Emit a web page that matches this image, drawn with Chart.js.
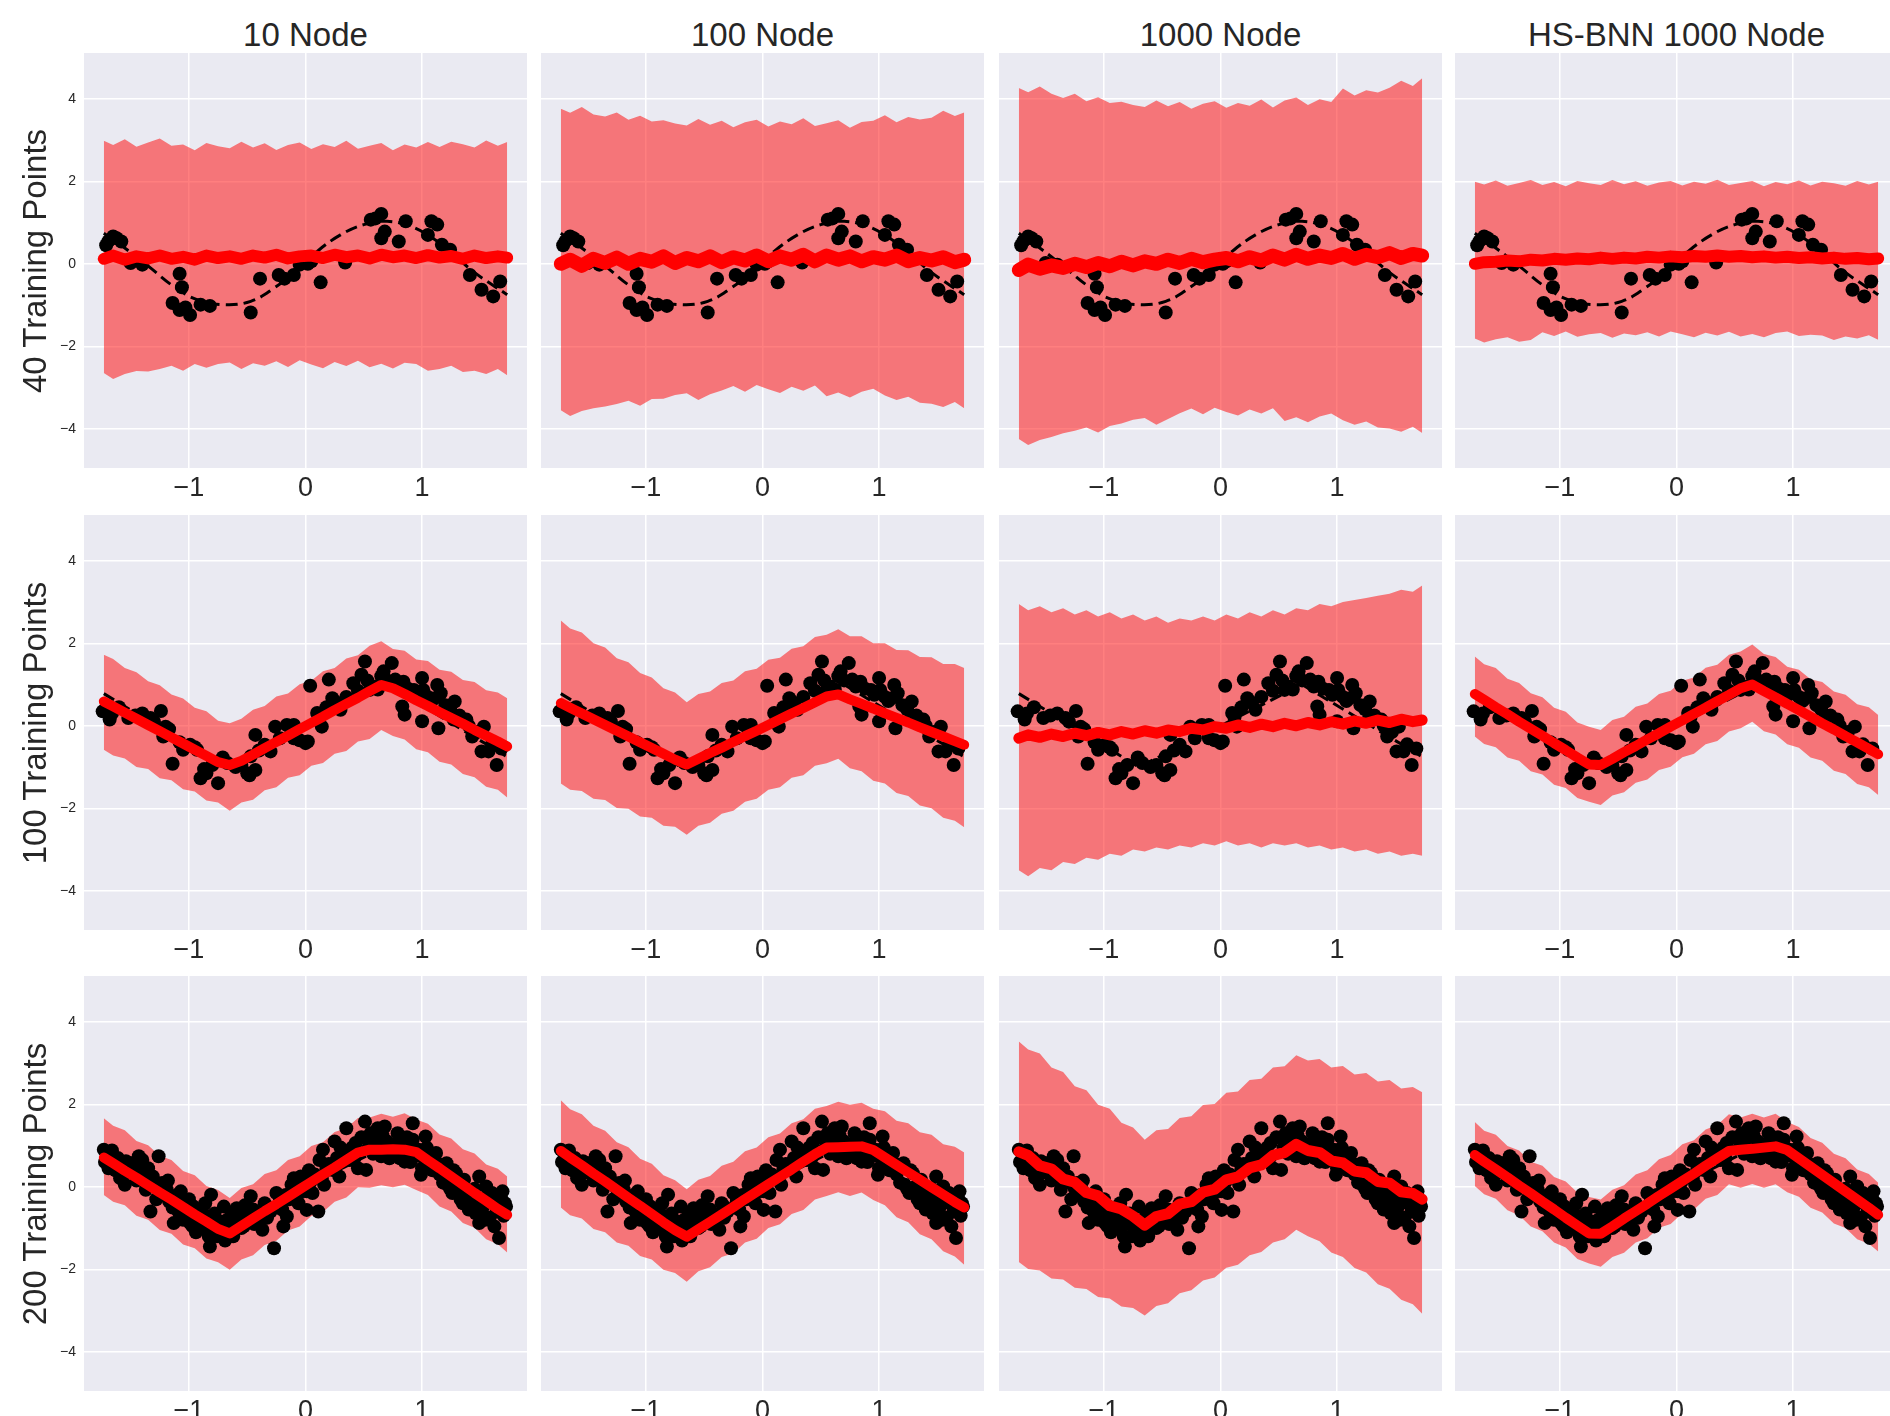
<!DOCTYPE html>
<html lang="en">
<head>
<meta charset="UTF-8">
<title>BNN regression: nodes vs training points</title>
<script src="https://cdn.jsdelivr.net/npm/chart.js"></script>
<style>
  body {
    margin: 0;
    width: 1890px;
    height: 1416px;
    overflow: hidden;
    position: relative;
    background: #fff;
    font-family: "Liberation Sans", Arial, sans-serif;
    color: #262626;
  }
  canvas { position: absolute; }
  .title, .rowlabel {
    position: absolute;
    font-size: 33px;
    line-height: 1;
    white-space: nowrap;
  }
  .title { transform: translate(-50%, -50%); }
  .rowlabel { transform: translate(-50%, -50%) rotate(-90deg); }
</style>
</head>
<body>
<script>
// ---- labels ----
const colTitles = ["10 Node", "100 Node", "1000 Node", "HS-BNN 1000 Node"];
const rowTitles = ["40 Training Points", "100 Training Points", "200 Training Points"];
const xTicks = [-1, 0, 1];
const yTicks = [-4, -2, 0, 2, 4];

// ---- x positions where the predictive band / mean were read ----
const bandX = [-1.73, -1.65, -1.55, -1.45, -1.35, -1.25, -1.15, -1.05, -0.95, -0.85, -0.75, -0.65,
  -0.55, -0.45, -0.35, -0.25, -0.15, -0.05, 0.05, 0.15, 0.25, 0.35, 0.45, 0.55,
  0.65, 0.75, 0.85, 0.95, 1.05, 1.15, 1.25, 1.35, 1.45, 1.55, 1.65, 1.73];

// ---- true function (dashed) ----
const truth1X = [-1.73, -1.53, -1.33, -1.13, -0.93, -0.70, -0.47, -0.27, -0.07, 0.10, 0.30, 0.50, 0.70, 0.90, 1.07, 1.24, 1.44, 1.73];
const truth1Y = [0.74, 0.34, -0.10, -0.55, -0.87, -0.99, -0.91, -0.59, -0.15, 0.30, 0.70, 0.95, 1.03, 0.91, 0.66, 0.30, -0.19, -0.75];
const truth2X = [-1.73, -0.70, 0.70, 1.73];
const truth2Y = [0.78, -1.00, 1.00, -0.75];

// ---- training points ----
const pts40 = [[-1.71,0.45],[-1.69,0.55],[-1.65,0.66],[-1.62,0.62],[-1.58,0.54],[-1.50,0.02],[-1.40,-0.02],
  [-1.08,-0.24],[-1.06,-0.57],[-1.14,-0.95],[-1.08,-1.12],[-1.03,-1.06],[-0.99,-1.24],[-0.90,-0.99],[-0.82,-1.02],
  [-0.47,-1.18],[-0.39,-0.36],[-0.23,-0.27],[-0.18,-0.36],[-0.10,-0.27],[-0.05,-0.02],[0.02,0.00],[0.05,0.06],[0.13,-0.45],[0.34,0.03],
  [0.56,1.07],[0.60,1.10],[0.65,1.21],[0.68,0.78],[0.65,0.62],[0.80,0.54],[0.86,1.03],
  [1.05,0.70],[1.08,1.03],[1.13,0.95],[1.17,0.46],[1.24,0.34],[1.41,-0.27],[1.51,-0.63],[1.61,-0.79],[1.67,-0.43]];

const pts100 = [[-1.74,0.35],[-1.68,0.15],[-1.66,0.30],[-1.60,0.45],[-1.52,0.19],[-1.46,0.25],[-1.40,0.30],[-1.33,0.19],
  [-1.30,0.10],[-1.24,0.36],[-1.20,-0.02],[-1.17,-0.08],[-1.22,-0.26],[-1.14,-0.92],[-1.08,-0.40],[-1.05,-0.58],
  [-0.99,-0.46],[-0.95,-0.52],[-0.93,-0.58],[-0.90,-1.27],[-0.87,-1.05],[-0.85,-1.15],[-0.80,-0.95],[-0.75,-1.39],
  [-0.71,-0.77],[-0.67,-0.90],[-0.60,-1.00],[-0.55,-0.95],[-0.50,-1.15],[-0.48,-1.20],[-0.47,-0.74],[-0.43,-1.07],
  [-0.43,-0.22],[-0.40,-0.60],[-0.35,-0.46],[-0.30,-0.62],[-0.26,-0.02],[-0.22,-0.30],[-0.16,0.02],[-0.12,-0.10],
  [-0.10,0.02],[-0.10,-0.30],[-0.05,-0.35],[0.00,-0.42],[0.02,-0.38],[0.04,0.97],[0.10,0.31],[0.12,0.20],
  [0.14,-0.02],[0.18,0.45],[0.20,1.12],[0.23,0.67],[0.27,0.55],[0.30,0.39],[0.35,0.70],[0.41,1.03],
  [0.45,0.85],[0.48,1.24],[0.51,1.56],[0.53,1.10],[0.55,0.87],[0.58,0.95],[0.62,0.88],[0.65,1.20],
  [0.67,1.32],[0.70,1.10],[0.74,1.52],[0.77,1.12],[0.80,0.95],[0.84,1.07],[0.83,0.47],[0.85,0.27],
  [0.88,0.90],[0.93,0.87],[0.96,0.75],[1.00,1.16],[1.00,0.11],[1.01,0.87],[1.05,0.70],[1.08,0.60],
  [1.11,0.67],[1.13,0.99],[1.14,-0.06],[1.16,0.79],[1.20,0.50],[1.24,0.40],[1.28,0.59],[1.27,0.15],
  [1.32,0.25],[1.38,0.15],[1.40,0.00],[1.43,-0.26],[1.47,-0.15],[1.53,-0.02],[1.51,-0.62],[1.57,-0.62],
  [1.60,-0.45],[1.64,-0.95],[1.68,-0.55]];

const pts200 = [[-1.73,0.90],[-1.70,0.80],[-1.66,0.88],[-1.69,0.45],[-1.64,0.60],[-1.61,0.70],[-1.59,0.21],[-1.57,0.50],
  [-1.55,0.05],[-1.52,0.35],[-1.49,0.57],[-1.47,0.40],[-1.45,0.15],[-1.43,0.74],[-1.40,0.65],[-1.38,0.30],
  [-1.37,-0.07],[-1.35,0.45],[-1.33,-0.60],[-1.31,0.25],[-1.29,0.10],[-1.26,0.74],[-1.25,-0.05],[-1.23,0.09],
  [-1.21,-0.20],[-1.19,-0.07],[-1.17,-0.35],[-1.16,-0.32],[-1.14,-0.50],[-1.13,-0.88],[-1.11,-0.40],[-1.09,-0.60],
  [-1.07,-0.11],[-1.05,-0.80],[-1.03,-0.45],[-1.01,-0.70],[-0.99,-0.88],[-0.97,-0.95],[-0.96,-0.48],[-0.93,-0.75],
  [-0.90,-0.60],[-0.89,-0.88],[-0.87,-1.00],[-0.85,-0.70],[-0.83,-1.20],[-0.82,-1.45],[-0.81,-0.19],[-0.79,-0.90],
  [-0.76,-1.20],[-0.74,-1.05],[-0.72,-0.85],[-0.70,-0.48],[-0.69,-1.30],[-0.67,-0.80],
  [-0.65,-1.10],[-0.63,-0.64],[-0.61,-0.95],[-0.59,-0.52],[-0.57,-0.75],[-0.55,-1.00],[-0.53,-0.96],[-0.50,-0.70],
  [-0.47,-0.23],[-0.45,-0.55],[-0.43,-0.64],[-0.40,-0.85],[-0.37,-1.04],[-0.35,-0.40],[-0.32,-0.50],[-0.30,-0.60],
  [-0.27,-1.49],[-0.25,-0.15],[-0.22,-0.35],[-0.19,-0.96],[-0.17,-0.20],[-0.16,-0.72],[-0.14,-0.30],[-0.12,0.05],
  [-0.10,0.21],[-0.08,-0.25],[-0.05,0.17],[-0.04,0.25],[-0.02,-0.10],[0.01,-0.11],[0.01,-0.56],[0.04,0.10],
  [0.06,-0.15],[0.08,0.30],[0.11,-0.60],[0.12,0.65],[0.14,0.20],[0.15,0.90],[0.18,0.45],[0.20,0.55],
  [0.23,0.41],[0.25,1.10],[0.27,0.70],[0.29,0.25],[0.32,0.80],[0.35,1.42],[0.38,0.65],[0.40,0.95],
  [0.43,1.06],[0.45,0.45],[0.48,1.20],
  [0.51,1.58],[0.52,0.41],[0.54,0.95],[0.56,1.30],[0.58,0.80],[0.61,1.22],[0.62,1.42],[0.64,1.00],
  [0.65,0.74],[0.68,1.46],[0.70,1.10],[0.72,0.69],[0.75,0.85],[0.78,1.05],[0.81,0.69],[0.83,0.95],
  [0.85,0.61],[0.87,1.20],[0.89,0.90],[0.92,1.54],[0.92,1.14],[0.95,0.75],[0.97,0.90],[0.99,0.29],
  [1.00,0.45],[1.02,0.70],[1.03,1.22],[1.06,0.60],[1.09,0.40],[1.12,0.82],[1.15,0.30],[1.18,0.10],
  [1.21,0.57],[1.22,0.05],[1.24,-0.05],[1.26,-0.15],[1.29,0.33],[1.31,0.00],[1.33,-0.30],[1.36,0.17],
  [1.38,-0.11],[1.40,-0.55],[1.42,-0.20],[1.44,-0.40],[1.46,-0.64],[1.48,-0.30],[1.49,0.25],[1.49,-0.88],
  [1.52,-0.50],[1.55,0.01],[1.56,-0.23],[1.58,-0.75],[1.61,-0.40],[1.62,-0.96],[1.64,-0.60],[1.66,-1.24],
  [1.68,-0.30],[1.69,-0.11],[1.71,-0.40],[1.72,-0.48],
  [-1.72,0.60],[-1.63,0.40],[-1.54,0.62],[-1.44,0.50],[-1.36,0.20],[-1.28,-0.30],[-1.18,0.15],[-1.10,-0.20],
  [-1.00,-0.30],[-0.94,-1.10],[-0.86,-0.40],[-0.78,-0.65],[-0.71,-1.05],[-0.62,-1.20],[-0.52,-0.45],[-0.44,-0.90],
  [-0.33,-0.75],[-0.20,-0.55],[-0.06,-0.40],[0.03,0.40],[0.16,0.05],[0.30,0.95],[0.42,0.70],[0.57,1.05],
  [0.66,1.25],[0.79,1.30],[0.90,0.60],[1.04,0.95],[1.14,0.55],[1.27,0.40],[1.35,-0.40],[1.45,-0.05],
  [1.54,-0.80],[1.60,-0.15],[1.70,-0.70]];

// ---- row 1: 40 training points ----
const r1c1Upper = [2.98, 2.88, 3.02, 2.84, 2.94, 3.04, 2.86, 2.89, 2.75, 2.93, 2.85, 2.80,
  2.96, 2.82, 2.92, 2.76, 2.88, 2.94, 2.78, 2.90, 2.83, 2.98, 2.79, 2.86,
  2.93, 2.75, 2.89, 2.82, 2.95, 2.83, 2.96, 2.90, 2.82, 2.99, 2.86, 2.95];
const r1c1Lower = [-2.65, -2.79, -2.67, -2.60, -2.61, -2.55, -2.47, -2.59, -2.43, -2.52, -2.43, -2.39,
  -2.55, -2.41, -2.47, -2.36, -2.50, -2.34, -2.44, -2.53, -2.38, -2.48, -2.35, -2.51,
  -2.42, -2.54, -2.40, -2.43, -2.59, -2.55, -2.47, -2.62, -2.59, -2.67, -2.55, -2.70];
const r1c1Mean = [0.12, 0.20, 0.10, 0.18, 0.13, 0.20, 0.12, 0.17, 0.10, 0.20, 0.14, 0.18,
  0.12, 0.20, 0.15, 0.22, 0.13, 0.18, 0.20, 0.14, 0.22, 0.16, 0.20, 0.13,
  0.22, 0.16, 0.20, 0.14, 0.21, 0.15, 0.19, 0.12, 0.20, 0.14, 0.18, 0.15];

const r1c2Upper = [3.76, 3.66, 3.80, 3.62, 3.57, 3.67, 3.49, 3.59, 3.45, 3.48, 3.40, 3.35,
  3.51, 3.37, 3.47, 3.31, 3.43, 3.49, 3.33, 3.45, 3.38, 3.53, 3.34, 3.41,
  3.48, 3.30, 3.44, 3.47, 3.60, 3.43, 3.56, 3.50, 3.54, 3.71, 3.58, 3.67];
const r1c2Lower = [-3.55, -3.69, -3.57, -3.50, -3.46, -3.40, -3.32, -3.44, -3.28, -3.27, -3.18, -3.14,
  -3.30, -3.16, -3.07, -2.96, -3.10, -2.94, -3.04, -3.13, -2.98, -3.08, -2.95, -3.21,
  -3.12, -3.24, -3.10, -3.03, -3.19, -3.30, -3.22, -3.37, -3.39, -3.47, -3.35, -3.50];
const r1c2Mean = [0.00, 0.10, -0.05, 0.12, 0.02, 0.15, 0.00, 0.12, 0.05, 0.18, 0.02, 0.14,
  0.06, 0.18, 0.04, 0.16, 0.08, 0.20, 0.06, 0.18, 0.10, 0.22, 0.06, 0.20,
  0.10, 0.18, 0.06, 0.16, 0.10, 0.20, 0.06, 0.14, 0.08, 0.16, 0.04, 0.10];

const r1c3Upper = [4.26, 4.16, 4.30, 4.12, 4.02, 4.12, 3.94, 4.04, 3.90, 3.93, 3.85, 3.80,
  3.96, 3.82, 3.92, 3.76, 3.88, 3.94, 3.78, 3.90, 3.83, 3.98, 3.79, 3.96,
  4.03, 3.85, 3.99, 3.92, 4.25, 4.08, 4.21, 4.15, 4.27, 4.44, 4.31, 4.50];
const r1c3Lower = [-4.25, -4.39, -4.27, -4.20, -4.11, -4.05, -3.97, -4.09, -3.93, -3.87, -3.78, -3.74,
  -3.90, -3.76, -3.62, -3.51, -3.65, -3.49, -3.59, -3.68, -3.53, -3.63, -3.50, -3.81,
  -3.72, -3.84, -3.70, -3.63, -3.79, -3.90, -3.82, -3.97, -3.99, -4.07, -3.95, -4.10];
const r1c3Mean = [-0.15, -0.02, -0.12, -0.04, -0.10, 0.00, -0.08, 0.02, -0.06, 0.05, -0.04, 0.06,
  0.00, 0.10, 0.02, 0.12, 0.04, 0.10, 0.14, 0.06, 0.16, 0.08, 0.20, 0.10,
  0.22, 0.12, 0.20, 0.14, 0.24, 0.12, 0.22, 0.16, 0.26, 0.14, 0.24, 0.20];

const r1c4Upper = [1.99, 1.92, 2.02, 1.89, 1.96, 2.03, 1.91, 1.98, 1.88, 2.01, 1.95, 1.91,
  2.03, 1.93, 2.00, 1.89, 1.97, 2.01, 1.90, 1.99, 1.94, 2.04, 1.91, 1.96,
  2.01, 1.88, 1.98, 1.93, 2.02, 1.90, 1.99, 1.95, 1.89, 2.01, 1.92, 1.99];
const r1c4Lower = [-1.81, -1.91, -1.83, -1.78, -1.89, -1.85, -1.66, -1.75, -1.64, -1.77, -1.71, -1.68,
  -1.79, -1.69, -1.73, -1.66, -1.76, -1.64, -1.71, -1.78, -1.67, -1.74, -1.65, -1.76,
  -1.70, -1.78, -1.68, -1.64, -1.75, -1.72, -1.74, -1.85, -1.76, -1.81, -1.73, -1.84];
const r1c4Mean = [0.00, 0.04, 0.05, 0.08, 0.06, 0.10, 0.08, 0.12, 0.10, 0.13, 0.11, 0.15,
  0.12, 0.15, 0.13, 0.17, 0.15, 0.18, 0.16, 0.19, 0.17, 0.20, 0.17, 0.19,
  0.16, 0.18, 0.15, 0.17, 0.14, 0.16, 0.13, 0.15, 0.12, 0.14, 0.11, 0.13];

// ---- row 2: 100 training points ----
const r2c1Upper = [1.72, 1.62, 1.40, 1.30, 1.08, 0.98, 0.76, 0.66, 0.44, 0.35, 0.12, 0.06,
  0.17, 0.39, 0.48, 0.71, 0.78, 1.01, 1.09, 1.32, 1.40, 1.63, 1.71, 1.94,
  2.05, 1.86, 1.82, 1.61, 1.57, 1.36, 1.31, 1.11, 1.06, 0.86, 0.81, 0.67];
const r2c1Lower = [-0.58, -0.72, -0.79, -1.00, -1.05, -1.27, -1.32, -1.54, -1.59, -1.81, -1.86, -2.06,
  -1.86, -1.79, -1.56, -1.49, -1.26, -1.20, -0.97, -0.90, -0.68, -0.61, -0.38, -0.32,
  -0.10, -0.25, -0.33, -0.57, -0.64, -0.87, -0.94, -1.17, -1.25, -1.48, -1.55, -1.74];
const r2c1Mean = [0.59, 0.47, 0.32, 0.17, 0.02, -0.13, -0.28, -0.43, -0.58, -0.73, -0.88, -0.95,
  -0.85, -0.70, -0.54, -0.39, -0.24, -0.08, 0.07, 0.22, 0.38, 0.53, 0.68, 0.84,
  0.99, 0.91, 0.77, 0.62, 0.48, 0.33, 0.19, 0.05, -0.10, -0.24, -0.38, -0.50];

const r2c2Upper = [2.55, 2.36, 2.26, 2.00, 1.90, 1.64, 1.54, 1.28, 1.17, 0.91, 0.81, 0.57,
  0.77, 0.83, 1.04, 1.10, 1.32, 1.38, 1.60, 1.65, 1.87, 1.93, 2.15, 2.21,
  2.34, 2.17, 2.17, 2.00, 2.00, 1.84, 1.83, 1.67, 1.66, 1.50, 1.50, 1.40];
const r2c2Lower = [-1.40, -1.55, -1.58, -1.77, -1.80, -1.99, -2.01, -2.20, -2.23, -2.42, -2.45, -2.64,
  -2.42, -2.35, -2.13, -2.06, -1.84, -1.77, -1.55, -1.49, -1.26, -1.20, -0.97, -0.91,
  -0.80, -1.03, -1.10, -1.33, -1.40, -1.63, -1.70, -1.93, -2.00, -2.23, -2.30, -2.46];
const r2c2Mean = [0.55, 0.44, 0.30, 0.16, 0.02, -0.12, -0.26, -0.40, -0.54, -0.68, -0.82, -0.94,
  -0.80, -0.66, -0.53, -0.39, -0.25, -0.12, 0.02, 0.16, 0.30, 0.43, 0.57, 0.71,
  0.76, 0.64, 0.53, 0.42, 0.30, 0.19, 0.08, -0.04, -0.15, -0.26, -0.37, -0.46];

const r2c3Upper = [2.95, 2.80, 2.90, 2.75, 2.85, 2.70, 2.80, 2.65, 2.75, 2.60, 2.70, 2.55,
  2.65, 2.50, 2.60, 2.55, 2.65, 2.55, 2.70, 2.60, 2.75, 2.65, 2.80, 2.70,
  2.85, 2.80, 2.95, 2.90, 3.00, 3.05, 3.10, 3.15, 3.20, 3.30, 3.25, 3.40];
const r2c3Lower = [-3.50, -3.65, -3.45, -3.50, -3.30, -3.35, -3.20, -3.25, -3.10, -3.15, -3.00, -3.05,
  -2.95, -3.00, -2.90, -2.95, -2.85, -2.90, -2.80, -2.90, -2.85, -2.95, -2.85, -2.90,
  -2.85, -2.95, -2.90, -3.00, -2.95, -3.05, -3.00, -3.10, -3.05, -3.15, -3.10, -3.15];
const r2c3Mean = [-0.30, -0.22, -0.28, -0.20, -0.26, -0.18, -0.24, -0.16, -0.22, -0.14, -0.20, -0.12,
  -0.18, -0.10, -0.14, -0.06, -0.10, -0.02, -0.06, 0.02, -0.04, 0.04, -0.02, 0.06,
  0.00, 0.08, 0.02, 0.10, 0.04, 0.12, 0.06, 0.14, 0.08, 0.16, 0.10, 0.14];

const r2c4Upper = [1.68, 1.49, 1.40, 1.14, 1.04, 0.79, 0.69, 0.44, 0.34, 0.08, -0.02, -0.10,
  0.14, 0.22, 0.46, 0.54, 0.77, 0.85, 1.09, 1.17, 1.41, 1.48, 1.72, 1.80,
  1.97, 1.74, 1.67, 1.43, 1.36, 1.13, 1.06, 0.83, 0.75, 0.52, 0.45, 0.26];
const r2c4Lower = [-0.26, -0.44, -0.52, -0.77, -0.85, -1.10, -1.18, -1.43, -1.51, -1.75, -1.84, -1.92,
  -1.69, -1.61, -1.38, -1.30, -1.07, -0.99, -0.76, -0.68, -0.45, -0.37, -0.14, -0.06,
  0.10, -0.13, -0.21, -0.45, -0.53, -0.77, -0.85, -1.09, -1.17, -1.41, -1.49, -1.68];
const r2c4Mean = [0.77, 0.63, 0.45, 0.28, 0.10, -0.07, -0.24, -0.42, -0.59, -0.77, -0.94, -0.95,
  -0.80, -0.64, -0.49, -0.33, -0.18, -0.02, 0.13, 0.29, 0.44, 0.60, 0.75, 0.91,
  1.00, 0.84, 0.69, 0.53, 0.38, 0.22, 0.06, -0.09, -0.25, -0.40, -0.56, -0.69];

// ---- row 3: 200 training points ----
const r3c1Upper = [1.66, 1.48, 1.37, 1.11, 1.01, 0.75, 0.65, 0.38, 0.28, 0.02, -0.08, -0.27,
  -0.03, 0.06, 0.31, 0.40, 0.65, 0.74, 0.99, 1.08, 1.33, 1.42, 1.67, 1.68,
  1.77, 1.70, 1.78, 1.63, 1.53, 1.27, 1.17, 0.91, 0.81, 0.54, 0.44, 0.25];
const r3c1Lower = [-0.20, -0.36, -0.45, -0.70, -0.80, -1.05, -1.14, -1.40, -1.49, -1.74, -1.83, -2.01,
  -1.76, -1.66, -1.41, -1.31, -1.06, -0.96, -0.71, -0.61, -0.36, -0.26, -0.01, -0.02,
  0.04, -0.01, 0.05, -0.08, -0.20, -0.48, -0.60, -0.88, -0.99, -1.27, -1.39, -1.59];
const r3c1Mean = [0.71, 0.57, 0.39, 0.22, 0.04, -0.14, -0.31, -0.49, -0.67, -0.84, -1.02, -1.13,
  -0.95, -0.77, -0.59, -0.42, -0.24, -0.06, 0.12, 0.30, 0.47, 0.65, 0.83, 0.90,
  0.90, 0.91, 0.90, 0.84, 0.64, 0.45, 0.25, 0.05, -0.15, -0.34, -0.54, -0.68];

const r3c2Upper = [2.10, 1.88, 1.76, 1.48, 1.36, 1.08, 0.96, 0.68, 0.56, 0.28, 0.16, -0.06,
  0.17, 0.26, 0.51, 0.61, 0.86, 0.95, 1.20, 1.29, 1.54, 1.64, 1.89, 1.96,
  2.06, 1.99, 2.04, 1.89, 1.83, 1.60, 1.54, 1.32, 1.26, 1.03, 0.97, 0.83];
const r3c2Lower = [-0.50, -0.69, -0.77, -1.02, -1.10, -1.35, -1.43, -1.68, -1.76, -2.01, -2.09, -2.30,
  -2.05, -1.95, -1.70, -1.61, -1.35, -1.26, -1.00, -0.91, -0.66, -0.56, -0.31, -0.22,
  -0.13, -0.22, -0.14, -0.32, -0.45, -0.74, -0.86, -1.15, -1.27, -1.56, -1.69, -1.89];
const r3c2Mean = [0.87, 0.71, 0.52, 0.32, 0.13, -0.07, -0.27, -0.46, -0.66, -0.86, -1.05, -1.21,
  -1.03, -0.85, -0.67, -0.49, -0.30, -0.12, 0.06, 0.24, 0.42, 0.61, 0.79, 0.95,
  0.96, 0.97, 0.98, 0.89, 0.71, 0.53, 0.35, 0.17, -0.01, -0.19, -0.37, -0.50];

const r3c3Upper = [3.52, 3.33, 3.23, 2.89, 2.78, 2.44, 2.34, 1.99, 1.89, 1.55, 1.44, 1.14,
  1.37, 1.40, 1.67, 1.71, 1.98, 2.01, 2.28, 2.31, 2.59, 2.62, 2.89, 2.92,
  3.19, 3.06, 3.10, 2.89, 2.93, 2.72, 2.76, 2.55, 2.59, 2.38, 2.42, 2.29];
const r3c3Lower = [-1.82, -1.99, -2.03, -2.22, -2.25, -2.45, -2.48, -2.67, -2.71, -2.90, -2.94, -3.12,
  -2.89, -2.82, -2.58, -2.51, -2.27, -2.20, -1.96, -1.89, -1.66, -1.58, -1.35, -1.27,
  -1.04, -1.20, -1.32, -1.59, -1.70, -1.97, -2.08, -2.36, -2.47, -2.74, -2.85, -3.08];
const r3c3Mean = [0.85, 0.76, 0.51, 0.43, 0.19, 0.11, -0.14, -0.22, -0.46, -0.54, -0.71, -0.93,
  -0.72, -0.65, -0.42, -0.36, -0.13, -0.06, 0.17, 0.24, 0.46, 0.53, 0.76, 0.83,
  1.03, 0.88, 0.83, 0.63, 0.58, 0.38, 0.34, 0.13, 0.09, -0.12, -0.16, -0.30];

const r3c4Upper = [1.57, 1.36, 1.26, 0.99, 0.88, 0.61, 0.51, 0.24, 0.13, -0.14, -0.25, -0.31,
  -0.07, 0.04, 0.30, 0.40, 0.67, 0.77, 1.03, 1.13, 1.39, 1.50, 1.76, 1.68,
  1.77, 1.68, 1.77, 1.57, 1.45, 1.18, 1.07, 0.80, 0.69, 0.42, 0.31, 0.10];
const r3c4Lower = [0.02, -0.18, -0.29, -0.57, -0.69, -0.96, -1.08, -1.35, -1.47, -1.75, -1.86, -1.94,
  -1.70, -1.60, -1.35, -1.25, -0.99, -0.90, -0.64, -0.55, -0.29, -0.20, 0.06, -0.02,
  0.07, -0.02, 0.06, -0.13, -0.24, -0.51, -0.62, -0.89, -1.00, -1.27, -1.38, -1.57];
const r3c4Mean = [0.77, 0.61, 0.42, 0.23, 0.03, -0.16, -0.36, -0.55, -0.75, -0.94, -1.13, -1.14,
  -0.96, -0.77, -0.59, -0.41, -0.22, -0.04, 0.14, 0.32, 0.51, 0.69, 0.87, 0.90,
  0.92, 0.95, 0.98, 0.89, 0.69, 0.49, 0.29, 0.09, -0.11, -0.31, -0.51, -0.68];

// ---- grid of panels ----
const bands = [
  [[r1c1Upper, r1c1Lower, r1c1Mean], [r1c2Upper, r1c2Lower, r1c2Mean], [r1c3Upper, r1c3Lower, r1c3Mean], [r1c4Upper, r1c4Lower, r1c4Mean]],
  [[r2c1Upper, r2c1Lower, r2c1Mean], [r2c2Upper, r2c2Lower, r2c2Mean], [r2c3Upper, r2c3Lower, r2c3Mean], [r2c4Upper, r2c4Lower, r2c4Mean]],
  [[r3c1Upper, r3c1Lower, r3c1Mean], [r3c2Upper, r3c2Lower, r3c2Mean], [r3c3Upper, r3c3Lower, r3c3Mean], [r3c4Upper, r3c4Lower, r3c4Mean]]
];
const rowPoints = [pts40, pts100, pts200];
const rowTruth = [[truth1X, truth1Y], [truth2X, truth2Y], [truth2X, truth2Y]];

// layout (pixels)
const colLeft = [84, 541, 999, 1455];
const rowTop = [53, 515, 976];
const plotW = 443, plotH = 415, xAxisH = 44, yAxisW = 84;
const FONT = "'Liberation Sans', Arial, sans-serif";
const TEXT = "#262626";

const panelBg = {
  id: "panelBg",
  beforeDraw(chart) {
    const a = chart.chartArea;
    const ctx = chart.ctx;
    ctx.save();
    ctx.fillStyle = "#EAEAF2";
    ctx.fillRect(a.left, a.top, a.right - a.left, a.bottom - a.top);
    ctx.restore();
  }
};

function xy(xs, ys) {
  return xs.map((x, i) => ({ x: x, y: ys[i] }));
}

function fmtTick(v) {
  return v < 0 ? "\u2212" + Math.abs(v) : String(v);
}

// keep the plot box fixed: no label overhang padding from the scales
function noScalePadding(s) {
  s.paddingTop = 0;
  s.paddingBottom = 0;
  s.paddingLeft = 0;
  s.paddingRight = 0;
}

// the noisier mean curves (row 1, and the 1000 node column) look thicker
function meanWidth(r, c) {
  if (r === 0) return c === 1 || c === 2 ? 14 : 12;
  return c === 2 ? 11 : 10;
}

function makePanel(r, c) {
  const padL = c === 0 ? yAxisW : 0;
  const canvas = document.createElement("canvas");
  canvas.width = plotW + padL;
  canvas.height = plotH + xAxisH;
  canvas.style.left = (colLeft[c] - padL) + "px";
  canvas.style.top = rowTop[r] + "px";
  document.body.appendChild(canvas);

  const [upper, lower, mean] = bands[r][c];
  const [tx, ty] = rowTruth[r];
  const pts = rowPoints[r].map(p => ({ x: p[0], y: p[1] }));

  new Chart(canvas.getContext("2d"), {
    type: "line",
    data: {
      datasets: [
        {
          label: "mean",
          data: xy(bandX, mean),
          borderColor: "#ff0000",
          borderWidth: meanWidth(r, c),
          borderCapStyle: "round",
          borderJoinStyle: "round",
          pointRadius: 0,
          fill: false,
          order: 0
        },
        {
          label: "train",
          data: pts,
          showLine: false,
          pointRadius: 7,
          pointBackgroundColor: "#000",
          pointBorderWidth: 0,
          fill: false,
          order: 1
        },
        {
          label: "truth",
          data: xy(tx, ty),
          borderColor: "#000",
          borderWidth: 3,
          borderDash: [12, 6],
          tension: r === 0 ? 0.4 : 0,
          pointRadius: 0,
          fill: false,
          order: 2
        },
        {
          label: "upper",
          data: xy(bandX, upper),
          borderWidth: 0,
          pointRadius: 0,
          backgroundColor: "rgba(255, 0, 0, 0.5)",
          fill: "+1",
          order: 3
        },
        {
          label: "lower",
          data: xy(bandX, lower),
          borderWidth: 0,
          pointRadius: 0,
          fill: false,
          order: 4
        }
      ]
    },
    options: {
      responsive: false,
      animation: false,
      events: [],
      layout: { padding: 0, autoPadding: false },
      plugins: { legend: { display: false }, tooltip: { enabled: false } },
      scales: {
        x: {
          type: "linear",
          min: -1.9,
          max: 1.9,
          afterBuildTicks: s => { s.ticks = xTicks.map(v => ({ value: v })); },
          afterFit: s => { s.height = xAxisH; noScalePadding(s); },
          grid: { color: "#ffffff", lineWidth: 1.5, drawTicks: false },
          border: { display: false },
          ticks: {
            color: TEXT,
            font: { family: FONT, size: 27 },
            padding: 4,
            maxRotation: 0,
            autoSkip: false,
            callback: v => fmtTick(v)
          }
        },
        y: {
          type: "linear",
          min: -4.95,
          max: 5.11,
          afterBuildTicks: s => { s.ticks = yTicks.map(v => ({ value: v })); },
          afterFit: s => { s.width = padL; noScalePadding(s); },
          grid: { color: "#ffffff", lineWidth: 1.5, drawTicks: false },
          border: { display: false },
          ticks: {
            display: c === 0,
            color: TEXT,
            font: { family: FONT, size: 14 },
            padding: 8,
            callback: v => fmtTick(v)
          }
        }
      }
    },
    plugins: [panelBg]
  });
}

for (let r = 0; r < 3; r++) {
  for (let c = 0; c < 4; c++) makePanel(r, c);
}

colTitles.forEach((t, c) => {
  const d = document.createElement("div");
  d.className = "title";
  d.textContent = t;
  d.style.left = (colLeft[c] + plotW / 2) + "px";
  d.style.top = "34px";
  document.body.appendChild(d);
});

rowTitles.forEach((t, r) => {
  const d = document.createElement("div");
  d.className = "rowlabel";
  d.textContent = t;
  d.style.left = "34px";
  d.style.top = (rowTop[r] + plotH / 2) + "px";
  document.body.appendChild(d);
});
</script>
</body>
</html>
